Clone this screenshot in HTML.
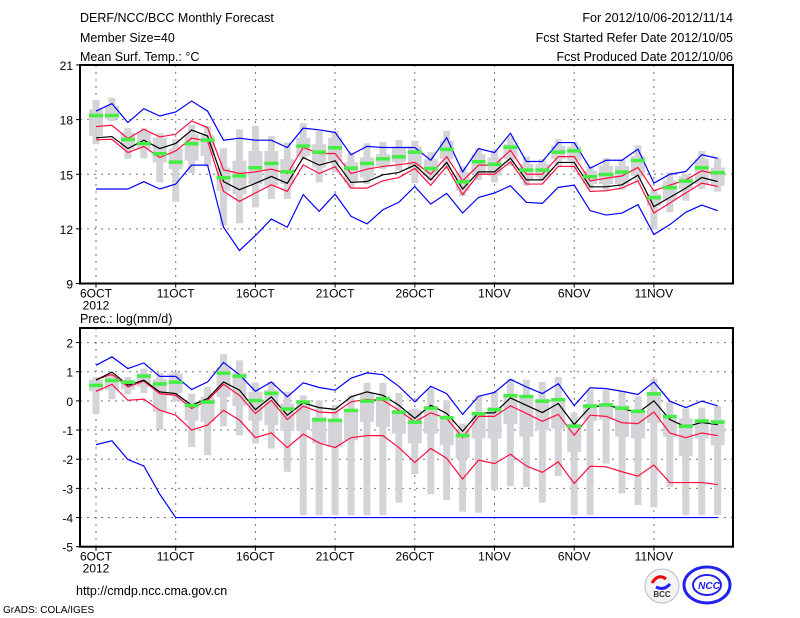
<!DOCTYPE html>
<html><head><meta charset="utf-8"><style>
body{margin:0;background:#fff}
svg{display:block;font-family:"Liberation Sans",sans-serif}
</style></head><body>
<svg id="chart" width="800" height="618" viewBox="0 0 800 618" xmlns="http://www.w3.org/2000/svg">
<g font-size="12.5" fill="#000">
<text x="80" y="22">DERF/NCC/BCC Monthly Forecast</text>
<text x="80" y="42">Member Size=40</text>
<text x="80" y="61">Mean Surf. Temp.: °C</text>
<text x="733" y="22" text-anchor="end">For 2012/10/06-2012/11/14</text>
<text x="733" y="42" text-anchor="end">Fcst Started Refer Date 2012/10/05</text>
<text x="733" y="61" text-anchor="end">Fcst Produced Date 2012/10/06</text>
<text x="80" y="323">Prec.: log(mm/d)</text>
<text x="76" y="595">http://cmdp.ncc.cma.gov.cn</text>
<text x="3" y="613" font-size="10">GrADS: COLA/IGES</text>
</g>
<g id="p1"></g>
<g id="p2"></g>
<g>
<circle cx="662" cy="586" r="17" fill="#f4f4f4" stroke="#bbb"/>
<path d="M652 583 q6 -10 14 -4" stroke="#e00" stroke-width="3" fill="none"/>
<path d="M656 587 q8 4 14 -3" stroke="#22f" stroke-width="3" fill="none"/>
<text x="662" y="597" font-size="8" font-weight="bold" text-anchor="middle" fill="#333">BCC</text>
</g>
<g>
<ellipse cx="707" cy="585" rx="23" ry="18" fill="none" stroke="#22e" stroke-width="3"/>
<ellipse cx="707" cy="585" rx="14" ry="10" fill="none" stroke="#22e" stroke-width="2"/>
<text x="709" y="589" font-size="10" font-weight="bold" font-style="italic" text-anchor="middle" fill="#22e">NCC</text>
</g>
</svg>
<script>
const dayLabels=["6OCT","11OCT","16OCT","21OCT","26OCT","1NOV","6NOV","11NOV"];
const dayLabelIdx=[0,5,10,15,20,25,30,35];
const tTicks=[9,12,15,18,21];
const pTicks=[-5,-4,-3,-2,-1,0,1,2];
// Temperature
const tMax=[18.47,18.88,17.84,18.6,18.2,18.42,19.02,18.47,16.87,16.98,16.87,16.87,16.47,17.53,17.44,17.3,16.07,16.53,16.47,16.47,16.47,15.77,17.01,15.13,16.41,16.19,17.25,15.7,15.7,16.74,16.74,15.33,15.77,15.77,16.38,14.51,15.0,15.15,16.07,15.88];
const tUp=[17.62,17.69,16.96,17.47,17.05,17.2,17.93,17.56,15.24,15.04,15.13,15.28,15.04,16.47,16.14,16.14,15.04,15.28,15.43,15.52,15.65,15.0,15.97,14.64,15.5,15.5,16.32,15.0,15.0,15.97,15.97,14.64,14.78,14.91,15.37,14.09,14.4,14.69,15.19,15.0];
const tMean=[17.0,17.07,16.41,16.87,16.41,16.69,17.43,17.1,14.6,14.15,14.5,14.88,14.5,15.92,15.5,15.74,14.55,14.6,14.97,15.1,15.5,14.69,15.65,14.19,15.13,15.13,15.88,14.69,14.69,15.65,15.65,14.31,14.31,14.42,14.95,13.22,13.73,14.24,14.82,14.6];
const tLow=[16.89,16.92,16.19,16.52,15.92,16.28,16.98,16.83,14.06,13.51,13.97,14.42,14.06,15.52,15.04,15.41,14.24,14.24,14.64,14.82,15.32,14.4,15.43,13.88,15.0,15.0,15.68,14.46,14.46,15.43,15.43,14.06,14.09,14.24,14.64,12.87,13.42,13.97,14.51,14.33];
const tMin=[14.19,14.19,14.19,14.59,14.19,14.46,15.5,15.5,12.09,10.81,11.63,12.54,12.09,13.88,12.96,13.91,12.69,12.27,13.05,13.46,14.33,13.36,13.95,12.87,13.73,13.97,14.37,13.46,13.4,14.28,14.4,13.0,12.76,12.87,13.33,11.69,12.23,12.91,13.31,13.0];
const tWhiskHi=[19.08,19.2,17.53,17.53,17.25,16.92,17.71,17.65,16.43,17.47,17.65,17.11,16.74,17.8,17.38,17.38,16.19,16.7,16.78,16.89,16.84,16.23,17.38,15.43,16.41,16.34,17.07,15.97,15.83,16.92,16.78,15.43,15.88,15.79,16.59,14.19,15.1,15.0,16.28,15.86];
const tWhiskLo=[16.65,17.93,15.86,15.88,14.55,13.49,15.06,15.43,12.18,12.31,13.18,13.64,13.64,15.79,14.55,15.1,14.22,14.46,15.28,15.19,14.51,14.64,15.28,13.8,14.69,14.55,15.46,14.37,14.64,15.46,15.28,14.19,14.09,14.15,14.64,11.96,12.91,13.55,14.19,14.04];
const tBoxHi=[18.57,18.75,17.29,17.29,17.01,16.41,17.2,17.14,15.37,15.74,16.28,16.28,15.83,17.01,16.65,17.01,15.65,15.92,16.1,16.47,16.52,15.83,16.83,15.1,16.1,15.92,16.65,15.56,15.56,16.56,16.52,15.19,15.46,15.46,16.01,13.91,14.64,14.88,15.83,15.37];
const tBoxLo=[17.11,18.02,16.38,16.38,15.65,15.28,15.74,16.01,14.09,13.91,14.46,14.37,14.46,16.01,15.37,15.74,14.55,14.82,15.46,15.65,15.28,14.92,15.83,14.09,15.0,14.92,15.83,14.73,14.82,15.83,15.74,14.46,14.46,14.46,14.91,13.27,13.55,14.19,14.46,14.37];
const tObs=[18.24,18.24,16.92,16.7,16.14,15.68,16.69,16.89,14.82,14.92,15.37,15.61,15.15,16.56,16.23,16.47,15.35,15.61,15.86,15.97,16.23,15.33,16.38,14.6,15.7,15.56,16.5,15.24,15.24,16.23,16.3,14.88,15.0,15.13,15.77,13.73,14.28,14.64,15.37,15.1];
// Precipitation
const pMax=[1.22,1.51,1.11,1.3,0.84,0.84,0.39,0.65,1.32,0.9,0.33,0.65,0.14,0.62,0.46,0.37,0.78,0.96,0.9,0.5,-0.03,0.5,0.25,-0.46,0.16,0.29,0.74,0.48,0.25,0.59,-0.16,0.45,0.42,0.33,0.22,0.65,-0.01,-0.23,-0.01,-0.17];
const pUp=[0.73,0.91,0.48,0.68,0.25,0.19,-0.26,0.02,0.57,0.19,-0.43,0.02,-0.64,-0.18,-0.38,-0.41,-0.03,0.05,0.02,-0.32,-0.72,-0.41,-0.6,-1.26,-0.53,-0.53,-0.17,-0.43,-0.7,-0.46,-1.18,-0.49,-0.53,-0.75,-0.78,-0.38,-1.1,-1.26,-1.1,-1.19];
const pMean=[0.71,0.99,0.54,0.71,0.31,0.25,-0.15,0.08,0.65,0.37,-0.3,0.14,-0.49,-0.07,-0.23,-0.29,0.14,0.31,0.19,-0.15,-0.6,-0.15,-0.43,-1.04,-0.41,-0.41,0.1,-0.15,-0.4,-0.09,-0.81,-0.21,-0.15,-0.26,-0.4,0,-0.64,-0.89,-0.74,-0.81];
const pLow=[0.33,0.57,0.02,0.06,-0.32,-0.49,-1.0,-0.83,-0.32,-0.66,-1.26,-1.1,-1.6,-1.14,-1.44,-1.6,-1.26,-1.19,-1.19,-1.6,-2.11,-1.63,-1.97,-2.68,-2.03,-2.15,-1.83,-2.23,-2.45,-2.09,-2.83,-2.24,-2.26,-2.43,-2.58,-2.2,-2.8,-2.8,-2.8,-2.87];
const pMin=[-1.5,-1.37,-2.01,-2.23,-3.2,-4,-4,-4,-4,-4,-4,-4,-4,-4,-4,-4,-4,-4,-4,-4,-4,-4,-4,-4,-4,-4,-4,-4,-4,-4,-4,-4,-4,-4,-4,-4,-4,-4,-4,-4];
const pWhiskHi=[0.82,0.88,0.82,1.11,0.96,0.99,0.25,0.48,1.6,1.39,0.63,0.65,0.31,0.19,0.02,-0.15,0.19,0.62,0.62,0.27,-0.26,0.42,0.02,-0.78,0.19,0.31,0.76,0.73,0.65,0.82,-0.41,0.39,0.37,0.34,0.16,0.76,-0.03,-0.26,-0.23,-0.18];
const pWhiskLo=[-0.46,0.06,0.23,0.27,-0.98,-0.03,-1.58,-1.86,-0.87,-1.18,-1.46,-1.63,-2.43,-3.92,-3.92,-3.92,-3.92,-3.92,-3.92,-3.49,-2.51,-3.2,-3.4,-3.8,-3.84,-3.06,-2.92,-2.95,-3.49,-2.58,-3.92,-3.92,-2.15,-3.17,-3.57,-3.65,-2.95,-3.92,-3.92,-3.92];
const pBoxHi=[0.73,0.82,0.71,0.94,0.76,0.94,-0.03,0.14,1.16,0.96,0.31,0.37,-0.09,0,-0.55,-0.64,-0.38,0.25,0.16,-0.3,-0.32,-0.18,-0.53,-0.95,-0.38,-0.21,0.23,0.19,0.08,0.08,-0.78,-0.11,-0.09,-0.15,-0.32,0.31,-0.49,-0.6,-0.64,-0.64];
const pBoxLo=[0.34,0.37,0.39,0.48,-0.38,0.27,-0.68,-0.72,0.14,-0.18,-0.68,-0.83,-1.03,-1.0,-1.46,-1.58,-1.35,-0.72,-0.89,-1.12,-1.46,-1.12,-1.52,-1.97,-1.29,-1.29,-0.8,-1.23,-1.0,-0.95,-1.75,-0.68,-0.64,-1.23,-1.29,-0.75,-1.23,-1.89,-1.29,-1.52];
const pObs=[0.54,0.71,0.65,0.86,0.59,0.65,-0.15,-0.03,0.96,0.86,0.02,0.27,-0.27,-0.03,-0.64,-0.66,-0.32,0,0.08,-0.38,-0.72,-0.24,-0.57,-1.18,-0.43,-0.29,0.19,0.16,0,0.05,-0.86,-0.17,-0.13,-0.24,-0.35,0.25,-0.53,-0.86,-0.68,-0.72];

const NS="http://www.w3.org/2000/svg";
const L=80,R=733,x=d=>96+d*15.94;
function mk(parent,tag,attrs){const e=document.createElementNS(NS,tag);for(const k in attrs)e.setAttribute(k,attrs[k]);parent.appendChild(e);return e;}
function panel(g,top,bot,ymin,ymax,ticks,showYear,S){
  const y=v=>bot-(v-ymin)/(ymax-ymin)*(bot-top);
  ticks.forEach(t=>{if(t>ymin&&t<ymax){const l=mk(g,'line',{x1:L,x2:R,y1:y(t),y2:y(t),stroke:'#777','stroke-dasharray':'2,5'});

}
    const tk=mk(g,'line',{x1:L-4,x2:L,y1:y(t),y2:y(t),stroke:'#000'});
    
    
    const tx=mk(g,'text',{x:L-7,y:y(t)+5,'text-anchor':'end','font-size':'12'});tx.textContent=t;
    
    });
  dayLabelIdx.forEach((d,i)=>{const gl=mk(g,'line',{x1:x(d),x2:x(d),y1:top,y2:bot,stroke:'#777','stroke-dasharray':'2,5'});
    
    
    const tk=mk(g,'line',{x1:x(d),x2:x(d),y1:bot,y2:bot+4,stroke:'#000'});
    
    
    const tx=mk(g,'text',{x:x(d),y:bot+14,'text-anchor':'middle','font-size':'12'});tx.textContent=dayLabels[i];
    
    });
  const yr=mk(g,'text',{x:x(0),y:bot+26,'text-anchor':'middle','font-size':'12'});yr.textContent='2012';
  
  
  S.wh.forEach((v,d)=>{const w=mk(g,'rect',{x:x(d)-3.5,y:y(v),width:7,height:y(S.wl[d])-y(v),fill:'#d4d4d8'});
    
    
    const b=mk(g,'rect',{x:x(d)-7,y:y(S.bh[d]),width:14,height:y(S.bl[d])-y(S.bh[d]),fill:'#d4d4d8'});
    
    });
  const lines=[[S.mx,'#0000ff','max-line'],[S.mn,'#0000ff','min-line'],[S.up,'#ff1040','upper-line'],[S.lo,'#ff1040','lower-line'],[S.me,'#000','mean-line']];
  lines.forEach(([arr,c,n])=>{const p=mk(g,'polyline',{points:arr.map((v,d)=>x(d)+','+y(v)).join(' '),fill:'none',stroke:c,'stroke-width':1.2});
    
    });
  S.ob.forEach((v,d)=>{const r=mk(g,'rect',{x:x(d)-7,y:y(v)-1.5,width:14,height:3.5,fill:'#44ee44'});
    
    });
  const f=mk(g,'rect',{x:L,y:top,width:R-L,height:bot-top,fill:'none',stroke:'#000','stroke-width':2});
  
  
}
panel(document.getElementById('p1'),65,283.5,9,21,tTicks,true,{wh:tWhiskHi,wl:tWhiskLo,bh:tBoxHi,bl:tBoxLo,mx:tMax,mn:tMin,up:tUp,lo:tLow,me:tMean,ob:tObs});
panel(document.getElementById('p2'),328,546.7,-5,2.5,pTicks,true,{wh:pWhiskHi,wl:pWhiskLo,bh:pBoxHi,bl:pBoxLo,mx:pMax,mn:pMin,up:pUp,lo:pLow,me:pMean,ob:pObs});
</script>
</body></html>
